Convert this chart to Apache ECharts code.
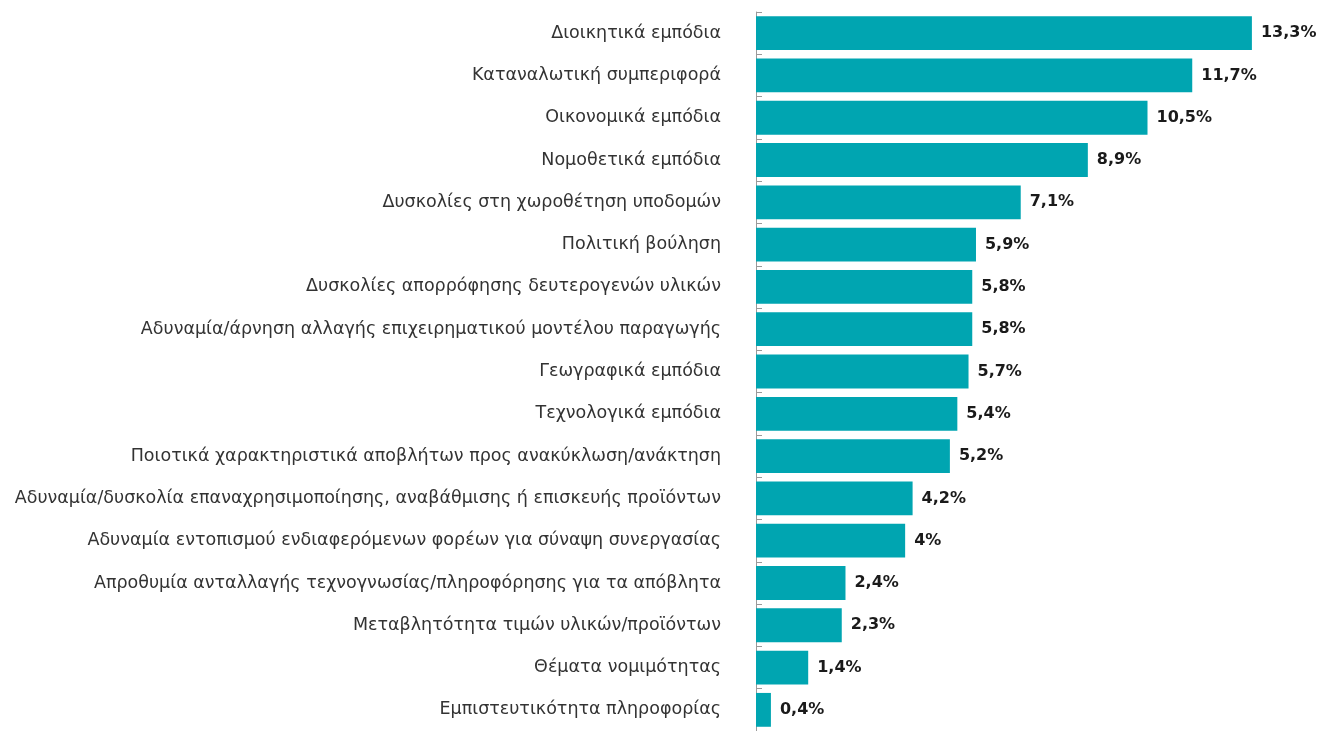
<!DOCTYPE html>
<html>
<head>
<meta charset="utf-8">
<script src="https://cdn.jsdelivr.net/npm/echarts@6/dist/echarts.min.js"></script>
<style>
  html, body { margin: 0; padding: 0; background: #fff; }
  #chart { width: 1329px; height: 731px; }
</style>
</head>
<body>
<div id="chart"></div>
<script>
// Barriers, ordered from largest share to smallest
const categories = [
  'Διοικητικά εμπόδια',
  'Καταναλωτική συμπεριφορά',
  'Οικονομικά εμπόδια',
  'Νομοθετικά εμπόδια',
  'Δυσκολίες στη χωροθέτηση υποδομών',
  'Πολιτική βούληση',
  'Δυσκολίες απορρόφησης δευτερογενών υλικών',
  'Αδυναμία/άρνηση αλλαγής επιχειρηματικού μοντέλου παραγωγής',
  'Γεωγραφικά εμπόδια',
  'Τεχνολογικά εμπόδια',
  'Ποιοτικά χαρακτηριστικά αποβλήτων προς ανακύκλωση/ανάκτηση',
  'Αδυναμία/δυσκολία επαναχρησιμοποίησης, αναβάθμισης ή επισκευής προϊόντων',
  'Αδυναμία εντοπισμού ενδιαφερόμενων φορέων για σύναψη συνεργασίας',
  'Απροθυμία ανταλλαγής τεχνογνωσίας/πληροφόρησης για τα απόβλητα',
  'Μεταβλητότητα τιμών υλικών/προϊόντων',
  'Θέματα νομιμότητας',
  'Εμπιστευτικότητα πληροφορίας'
];
const shares = [13.3, 11.7, 10.5, 8.9, 7.1, 5.9, 5.8, 5.8, 5.7, 5.4, 5.2, 4.2, 4.0, 2.4, 2.3, 1.4, 0.4];

const fmt = v => String(Math.round(v * 10) / 10).replace('.', ',') + '%';

const chart = echarts.init(document.getElementById('chart'), null, { renderer: 'canvas' });
chart.setOption({
  animation: false,
  textStyle: { fontFamily: '"DejaVu Sans", sans-serif' },
  grid: { left: 756, right: 51, top: 12, bottom: -3, containLabel: false },
  xAxis: {
    type: 'value', min: 0, max: 14,
    show: false
  },
  yAxis: {
    type: 'category',
    inverse: true,
    data: categories,
    axisLine: { show: true, lineStyle: { color: '#9a9a9a', width: 1 } },
    axisTick: { show: true, inside: true, length: 6, lineStyle: { color: '#9a9a9a' } },
    axisLabel: {
      margin: 35,
      color: '#333333',
      fontSize: 17.5,
      fontWeight: 'normal',
      fontFamily: '"DejaVu Sans", sans-serif'
    }
  },
  series: [{
    type: 'bar',
    data: shares,
    barCategoryGap: '20%',
    itemStyle: { color: '#00a5b1' },
    label: {
      show: true,
      position: 'right',
      distance: 9,
      color: '#1a1a1a',
      fontSize: 16,
      fontWeight: 'bold',
      fontFamily: '"DejaVu Sans", sans-serif',
      formatter: p => fmt(p.value)
    }
  }]
});
</script>
</body>
</html>
